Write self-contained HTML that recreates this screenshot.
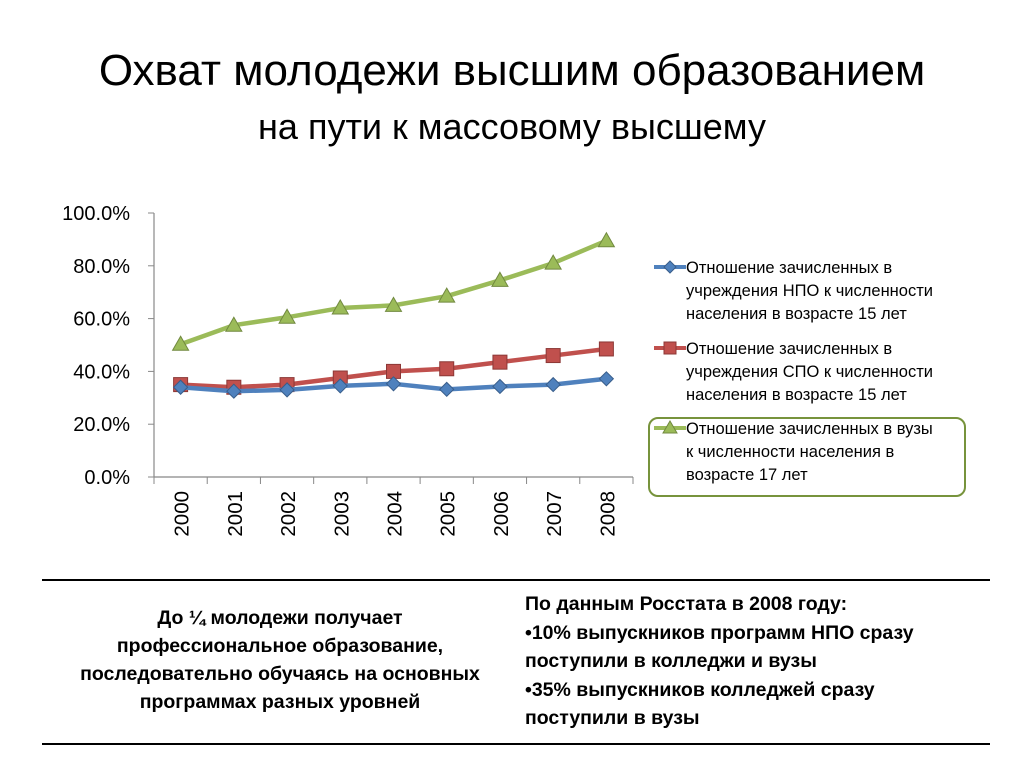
<!DOCTYPE html>
<html><head><meta charset="utf-8"><style>
body{margin:0;width:1024px;height:768px;background:#fff;font-family:"Liberation Sans","DejaVu Sans",sans-serif;position:relative;overflow:hidden}
.t1{position:absolute;left:0;width:1024px;top:46px;text-align:center;font-size:44px;color:#000;white-space:nowrap}
.t2{position:absolute;left:0;width:1024px;top:106px;text-align:center;font-size:36px;color:#000;white-space:nowrap}
.leg{position:absolute;left:686px;font-size:16.5px;line-height:23px;color:#000;white-space:nowrap}
.box{position:absolute;left:648px;top:417px;width:314px;height:76px;border:2.5px solid #77933c;border-radius:10px}
.hr{position:absolute;left:42px;width:948px;height:1.5px;background:#000}
.bl{position:absolute;left:30px;top:604px;width:500px;text-align:center;font-weight:bold;font-size:19.5px;line-height:28px;white-space:nowrap}
.br{position:absolute;left:525px;top:590px;width:480px;font-weight:bold;font-size:19.5px;line-height:28.5px;white-space:nowrap}
</style></head><body>
<div class="t1">Охват молодежи высшим образованием</div>
<div class="t2">на пути к массовому высшему</div>
<svg id="chart" width="1024" height="768" style="position:absolute;left:0;top:0"></svg>
<div class="box"></div>
<div class="leg" style="top:257px">Отношение зачисленных в<br>учреждения НПО к численности<br>населения в возрасте 15 лет</div>
<div class="leg" style="top:338px">Отношение зачисленных в<br>учреждения СПО к численности<br>населения в возрасте 15 лет</div>
<div class="leg" style="top:418px">Отношение зачисленных в вузы<br>к численности населения в<br>возрасте 17 лет</div>
<div class="hr" style="top:579px"></div>
<div class="hr" style="top:743px"></div>
<div class="bl">До ¼ молодежи получает<br>профессиональное образование,<br>последовательно обучаясь на основных<br>программах разных уровней</div>
<div class="br">По данным Росстата в 2008 году:<br>•10% выпускников программ НПО сразу<br>поступили в колледжи и вузы<br>•35% выпускников колледжей сразу<br>поступили в вузы</div>
<script>
const categories=["2000","2001","2002","2003","2004","2005","2006","2007","2008"];
const npo=[34.0,32.5,33.0,34.5,35.3,33.2,34.3,35.0,37.2];
const spo=[35.0,34.0,35.0,37.5,40.0,41.0,43.5,46.0,48.5];
const vuz=[50.3,57.5,60.5,64.0,65.0,68.5,74.5,81.0,89.5];
const yTicks=[0,20,40,60,80,100];
const yTickLabels=["0.0%","20.0%","40.0%","60.0%","80.0%","100.0%"];
const NS="http://www.w3.org/2000/svg",svg=document.getElementById('chart');
const X0=154,X1=633,Y0=477,Y1=213,bw=(X1-X0)/categories.length;
const x=i=>X0+bw*(i+0.5), y=v=>Y0-(v/100)*(Y0-Y1);
function mk(t,a){const e=document.createElementNS(NS,t);for(const k in a)e.setAttribute(k,a[k]);svg.appendChild(e);return e;}
let e=mk('line',{x1:X0,y1:Y1,x2:X0,y2:Y0,stroke:'#888','stroke-width':1.2});


e=mk('line',{x1:X0,y1:Y0,x2:X1,y2:Y0,stroke:'#888','stroke-width':1.2});


yTicks.forEach((v,i)=>{mk('line',{x1:X0-6,y1:y(v),x2:X0,y2:y(v),stroke:'#888'});
const t=mk('text',{x:X0-24,y:y(v)+7,'text-anchor':'end','font-size':20});t.textContent=yTickLabels[i];

});
for(let i=0;i<=categories.length;i++)mk('line',{x1:X0+bw*i,y1:Y0,x2:X0+bw*i,y2:Y0+7,stroke:'#888'});
categories.forEach((c,i)=>{const t=mk('text',{x:0,y:0,'font-size':20.5,'text-anchor':'end',transform:`translate(${x(i)+8},${Y0+14}) rotate(-90)`});t.textContent=c;

});
function series(vals,color,border,shape,name){
const p=mk('polyline',{points:vals.map((v,i)=>x(i)+','+y(v)).join(' '),fill:'none',stroke:color,'stroke-width':4.5,'stroke-linejoin':'round'});


vals.forEach((v,i)=>{const cx=x(i),cy=y(v);let m;
if(shape==='d')m=mk('polygon',{points:`${cx},${cy-7} ${cx+7},${cy} ${cx},${cy+7} ${cx-7},${cy}`,fill:color,stroke:border});
else if(shape==='s')m=mk('rect',{x:cx-7,y:cy-7,width:14,height:14,fill:color,stroke:border});
else m=mk('polygon',{points:`${cx},${cy-8} ${cx+8},${cy+6} ${cx-8},${cy+6}`,fill:color,stroke:border});

});}
series(vuz,'#9bbb59','#71893f','t','vuz');
series(spo,'#c0504d','#8c3836','s','spo');
series(npo,'#4f81bd','#385d8a','d','npo');
[[267,'#4f81bd','#385d8a','d'],[348,'#c0504d','#8c3836','s'],[428,'#9bbb59','#71893f','t']].forEach(([ly,c,b,s])=>{
const l=mk('line',{x1:654,y1:ly,x2:686,y2:ly,stroke:c,'stroke-width':4});


const cx=670,cy=ly;let m;
if(s==='d')m=mk('polygon',{points:`${cx},${cy-6} ${cx+6},${cy} ${cx},${cy+6} ${cx-6},${cy}`,fill:c,stroke:b});
else if(s==='s')m=mk('rect',{x:cx-6,y:cy-6,width:12,height:12,fill:c,stroke:b});
else m=mk('polygon',{points:`${cx},${cy-7} ${cx+7},${cy+5} ${cx-7},${cy+5}`,fill:c,stroke:b});

});
</script>
</body></html>
